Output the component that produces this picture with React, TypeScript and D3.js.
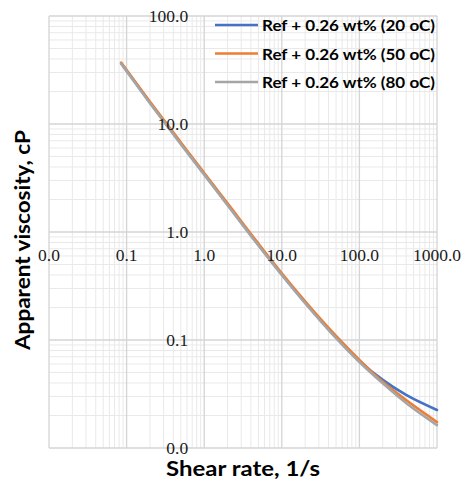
import React from "react";
import * as d3 from "d3";

const shearRates = [0.085, 0.2, 0.5, 1, 2, 5, 10, 20, 50, 100, 200, 400, 1000];
const visc20 = [36.5, 15.8, 6.6, 3.45, 1.8, 0.76, 0.405, 0.222, 0.106, 0.064, 0.0427, 0.031, 0.0225];
const visc50 = [37.0, 16.1, 6.75, 3.52, 1.84, 0.78, 0.415, 0.228, 0.109, 0.0655, 0.041, 0.0278, 0.0174];
const visc80 = [36.2, 15.6, 6.5, 3.4, 1.77, 0.75, 0.4, 0.219, 0.104, 0.0625, 0.0397, 0.0261, 0.0163];
const seriesNames = ["Ref + 0.26 wt% (20 oC)", "Ref + 0.26 wt% (50 oC)", "Ref + 0.26 wt% (80 oC)"];
const seriesColors = ["#4472C4", "#ED7D31", "#A5A5A5"];
const decades = [0.01, 0.1, 1, 10, 100, 1000];
const yDecades = [0.01, 0.1, 1, 10, 100];

const W = 465, H = 482;
const left = 49, right = 437, top = 16, bottom = 448;

export default function App() {
  const x = d3.scaleLog().domain([0.01, 1000]).range([left, right]);
  const y = d3.scaleLog().domain([0.01, 100]).range([bottom, top]);
  const fmt = d3.format(".1f");

  const minorX: number[] = [];
  for (let i = 0; i < decades.length - 1; i++)
    for (let k = 2; k <= 9; k++) minorX.push(decades[i] * k);
  const minorY: number[] = [];
  for (let i = 0; i < yDecades.length - 1; i++)
    for (let k = 2; k <= 9; k++) minorY.push(yDecades[i] * k);

  const line = d3
    .line<[number, number]>()
    .x((d) => x(d[0]))
    .y((d) => y(d[1]))
    .curve(d3.curveMonotoneX);

  const series = [visc20, visc50, visc80].map((vals) =>
    shearRates.map((s, i) => [s, vals[i]] as [number, number])
  );

  const serif = "'Liberation Serif', 'Times New Roman', serif";
  const sans = "Lato, 'Open Sans', sans-serif";

  return (
    <svg width={W} height={H} style={{ position: "absolute", left: 0, top: 0, background: "#fff" }}>
      <rect width={W} height={H} fill="#fff" />
      {minorX.map((v, i) => (
        <line key={"mx" + i} x1={x(v)} x2={x(v)} y1={top} y2={bottom} stroke="#e9e9e9" strokeWidth={1} />
      ))}
      {minorY.map((v, i) => (
        <line key={"my" + i} y1={y(v)} y2={y(v)} x1={left} x2={right} stroke="#e9e9e9" strokeWidth={1} />
      ))}
      {decades.map((v, i) => (
        <line key={"Mx" + i} x1={x(v)} x2={x(v)} y1={top} y2={bottom} stroke="#d4d4d4" strokeWidth={1.3} />
      ))}
      {yDecades.map((v, i) => (
        <line key={"My" + i} y1={y(v)} y2={y(v)} x1={left} x2={right} stroke="#d4d4d4" strokeWidth={1.3} />
      ))}
      {series.map((d, i) => (
        <path key={"s" + i} d={line(d) || ""} fill="none" stroke={seriesColors[i]} strokeWidth={2.6} strokeLinecap="round" />
      ))}
      {decades.map((v, i) => (
        <text key={"xt" + i} x={x(v)} y={y(1) + 29} textAnchor="middle" fontFamily={serif} fontSize={17.5} fill="#1a1a1a">
          {fmt(v)}
        </text>
      ))}
      {yDecades.map((v, i) => (
        <text key={"yt" + i} x={x(1) - 16} y={y(v) + 5.5} textAnchor="end" fontFamily={serif} fontSize={17.5} fill="#1a1a1a">
          {fmt(v)}
        </text>
      ))}
      {seriesNames.map((n, i) => (
        <g key={"lg" + i}>
          <line x1={215} x2={258} y1={25 + i * 28.5} y2={25 + i * 28.5} stroke={seriesColors[i]} strokeWidth={2.6} />
          <text x={262} y={25 + i * 28.5 + 6} fontFamily={sans} fontWeight="bold" fontSize={16} fill="#000" textLength={173} lengthAdjust="spacingAndGlyphs">
            {n}
          </text>
        </g>
      ))}
      <text x={(left + right) / 2} y={476} textAnchor="middle" fontFamily={sans} fontWeight="bold" fontSize={21} fill="#000" textLength={154} lengthAdjust="spacingAndGlyphs">
        Shear rate, 1/s
      </text>
      <text transform={`translate(30, 240) rotate(-90)`} textAnchor="middle" fontFamily={sans} fontWeight="bold" fontSize={21} fill="#000" textLength={220} lengthAdjust="spacingAndGlyphs">
        Apparent viscosity, cP
      </text>
    </svg>
  );
}
